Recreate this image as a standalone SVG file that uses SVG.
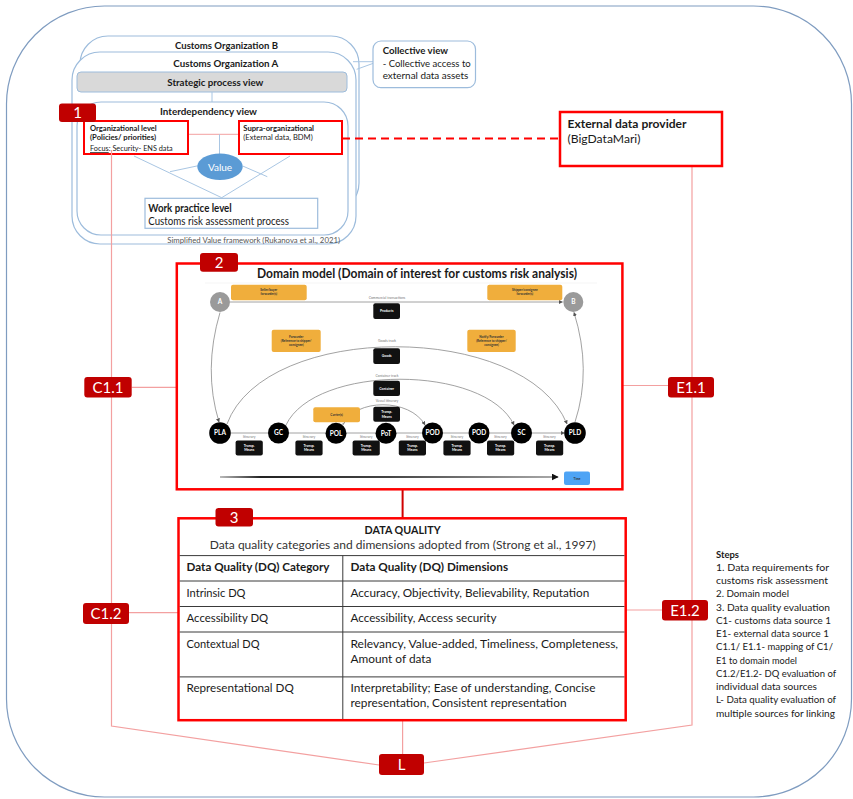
<svg xmlns="http://www.w3.org/2000/svg" width="853" height="799" viewBox="0 0 853 799">
<style>
text{font-family:Lato,"Liberation Sans","Noto Sans",sans-serif;fill:#1a1a1a}
.b{font-weight:bold}
.bl{fill:#fff;stroke:#9dbcdc;stroke-width:1.2}
.bln{fill:none;stroke:#a9c6e3;stroke-width:1}
.pk{fill:none;stroke:#f3a0a0;stroke-width:1.2}
.badge{fill:#c00000}
.bt{fill:#fff;font-size:15px;text-anchor:middle}
.rb{fill:#fff;stroke:#ff0000;stroke-width:2.5}
.tbl{stroke:#3a3a3a;stroke-width:1;fill:none}
.c11{font-size:11px}
.st{font-size:10px}
.tiny{font-size:3.4px;fill:#777;text-anchor:middle}
.wt{font-size:3.4px;fill:#fff;text-anchor:middle;font-weight:bold}
.ot{font-size:3.1px;fill:#333;text-anchor:middle;font-weight:bold}
.or{fill:#f0ae3c}
.bk{fill:#111}
.nl{fill:#fff;font-size:6.5px;font-weight:bold;text-anchor:middle}
.dl{fill:none;stroke:#8a8a8a;stroke-width:0.8}
</style>
<defs>
<marker id="ah" viewBox="0 0 10 10" refX="9" refY="5" markerWidth="4" markerHeight="4" markerUnits="userSpaceOnUse" orient="auto"><path d="M0,0 L10,5 L0,10z" fill="#555"/></marker>
<marker id="ta" viewBox="0 0 10 10" refX="9" refY="5" markerWidth="7" markerHeight="7" markerUnits="userSpaceOnUse" orient="auto"><path d="M0,0 L10,5 L0,10z" fill="#111"/></marker>
<linearGradient id="tg" gradientUnits="userSpaceOnUse" x1="220" y1="0" x2="558" y2="0">
<stop offset="0" stop-color="#bbb"/><stop offset="0.12" stop-color="#222"/><stop offset="0.5" stop-color="#444"/><stop offset="1" stop-color="#aaa"/>
</linearGradient>
</defs>

<rect id="frame" x="6.5" y="6" width="845" height="791" rx="98" fill="#fff" stroke="#7f9cc0" stroke-width="1.2"/>

<g id="value-framework">
<rect class="bl" x="80" y="36" width="279" height="175" rx="28"/>
<rect class="bl" x="72" y="52" width="284" height="192" rx="28"/>
<text class="b" x="226.5" y="48.5" font-size="10" text-anchor="middle" textLength="103" lengthAdjust="spacingAndGlyphs">Customs Organization B</text>
<text class="b" x="225.8" y="67" font-size="10" text-anchor="middle" textLength="105" lengthAdjust="spacingAndGlyphs">Customs Organization A</text>
<rect x="77" y="72" width="270" height="20" rx="4" fill="#d9d9d9" stroke="#9dbcdc" stroke-width="1"/>
<text class="b" x="215.3" y="86" font-size="10" text-anchor="middle" textLength="96" lengthAdjust="spacingAndGlyphs">Strategic process view</text>
<line class="bln" x1="212" y1="92" x2="212" y2="102"/>
<rect class="bl" x="77" y="102" width="271" height="133" rx="24"/>
<text class="b" x="208.5" y="114.5" font-size="10" text-anchor="middle" textLength="97" lengthAdjust="spacingAndGlyphs">Interdependency view</text>
<line x1="188" y1="134.3" x2="239" y2="134.3" stroke="#f3a0a0" stroke-width="1"/>
<line class="bln" x1="219.5" y1="134.3" x2="219.5" y2="154"/>
<path class="bln" d="M134,156 L221.7,197.7 L290,156 M170,171.7 L198.3,165.7 M242.7,166 L267.3,176.7"/>
<g id="org-level">
<rect x="84" y="121" width="104" height="33" fill="#fff" stroke="#ff0000" stroke-width="2"/>
<text class="b" x="90" y="131" font-size="7.5" textLength="66.7" lengthAdjust="spacingAndGlyphs">Organizational level</text>
<text class="b" x="90" y="139.5" font-size="7.5" textLength="66" lengthAdjust="spacingAndGlyphs">(Policies/ priorities)</text>
<text x="90" y="151" font-size="7.5" fill="#333" textLength="82.7" lengthAdjust="spacingAndGlyphs"><tspan text-decoration="underline">Focus</tspan>: Security- ENS data</text>
</g>
<g id="supra-level">
<rect x="239" y="121" width="103" height="33" fill="#fff" stroke="#ff0000" stroke-width="2"/>
<text class="b" x="243.3" y="131" font-size="7.5" textLength="70.7" lengthAdjust="spacingAndGlyphs">Supra-organizational</text>
<text x="243.3" y="139.5" font-size="7.5" fill="#444" textLength="69.4" lengthAdjust="spacingAndGlyphs">(External data, BDM)</text>
</g>
<g id="value">
<ellipse cx="220" cy="166.7" rx="22.7" ry="13.3" fill="#5b9bd5"/>
<text x="220" y="170.5" font-size="10" fill="#fff" style="fill:#fff" text-anchor="middle">Value</text>
</g>
<g id="work-practice">
<rect x="145" y="198.3" width="172.7" height="30" fill="#fff" stroke="#9dbcdc" stroke-width="1.2"/>
<text class="b" x="148.3" y="212" font-size="10.5" textLength="83.4" lengthAdjust="spacingAndGlyphs">Work practice level</text>
<text x="148.3" y="224.5" font-size="10.5" textLength="140.7" lengthAdjust="spacingAndGlyphs">Customs risk assessment process</text>
</g>
<text x="167.3" y="243" font-size="7.5" style="fill:#555" textLength="172.7" lengthAdjust="spacingAndGlyphs">Simplified Value framework (Rukanova et al., 2021)</text>
</g>

<g id="collective-view">
<path class="bln" d="M353,61.7 L373.3,61.7 M356.7,69.3 L373.3,63.3"/>
<rect x="373" y="41" width="102.5" height="46.7" rx="8" fill="#fff" stroke="#9dbcdc" stroke-width="1.2"/>
<text class="b" x="382.7" y="54" font-size="9.5" textLength="65.3" lengthAdjust="spacingAndGlyphs">Collective view</text>
<text x="382.7" y="66.5" font-size="9.5" textLength="88" lengthAdjust="spacingAndGlyphs">- Collective access to</text>
<text x="382.7" y="79" font-size="9.5" textLength="85.6" lengthAdjust="spacingAndGlyphs">external data assets</text>
</g>

<g id="connectors">
<path class="pk" d="M111.5,150 V726 L379,765"/>
<path class="pk" d="M692,166 V725 L424,763"/>
<path class="pk" d="M402.6,720 V754"/>
<path class="pk" d="M131.7,387.3 H176.8"/>
<path class="pk" d="M622.4,385.5 H668"/>
<path class="pk" d="M129,612.6 H178.5"/>
<path class="pk" d="M625.7,610 H662"/>
<path d="M402.6,489.3 V518.3" stroke="#d00000" stroke-width="2" fill="none"/>
<path d="M342,138.5 H560" stroke="#ff0000" stroke-width="2" stroke-dasharray="8,5" fill="none"/>
</g>

<g id="external-provider">
<rect x="560" y="112" width="162" height="54" fill="#fff" stroke="#ff0000" stroke-width="2.5"/>
<text class="b" x="567.5" y="127.5" font-size="12" textLength="119" lengthAdjust="spacingAndGlyphs">External data provider</text>
<text x="567.5" y="143" font-size="12" textLength="73" lengthAdjust="spacingAndGlyphs">(BigDataMari)</text>
</g>

<g id="domain-model">
<rect class="rb" x="176.8" y="263.5" width="445.6" height="225.8"/>
<text class="b" x="257" y="278" font-size="13" textLength="320" lengthAdjust="spacingAndGlyphs">Domain model (Domain of interest for customs risk analysis)</text>
<line x1="205" y1="283" x2="597" y2="283" stroke="#eeeeee" stroke-width="0.6"/>
<!-- tracks -->
<path class="dl" d="M230,302 H562.5" marker-end="url(#ah)"/>
<path class="dl" d="M220,312.5 Q203,370 219,422" marker-end="url(#ah)"/>
<path class="dl" d="M575,422 Q592,370 574,312.5" marker-end="url(#ah)"/>
<path class="dl" d="M227,424 C265,321 525,321 567,424" marker-end="url(#ah)"/>
<path class="dl" d="M286,425 C315,364 485,364 514,425" marker-end="url(#ah)"/>
<path class="dl" d="M343,425 C355,398 410,398 425,425" marker-end="url(#ah)"/>
<path class="dl" d="M230.5,433 H268 M289,433 H325.5 M346.5,433 H375.5 M396.5,433 H422 M443,433 H468.5 M489.5,433 H511 M532,433 H564.5" marker-end="url(#ah)"/>
<path class="dl" d="M345,422.3 L341,425"/>
<text class="tiny" x="387" y="298.8">Commercial transactions</text>
<text class="tiny" x="387" y="342.3">Goods track</text>
<text class="tiny" x="387" y="377">Container track</text>
<text class="tiny" x="387" y="402.3">Vessel itinerary</text>
<!-- orange actor boxes -->
<rect class="or" x="231" y="284.7" width="75.7" height="15.6" rx="2"/>
<text class="ot" x="268.8" y="291.3">Seller/buyer</text><text class="ot" x="268.8" y="295.3">forwarder(s)</text>
<rect class="or" x="487.3" y="284.7" width="75" height="15.6" rx="2"/>
<text class="ot" x="524.8" y="291.3">Shipper/consignee</text><text class="ot" x="524.8" y="295.3">forwarder(s)</text>
<rect class="or" x="271.7" y="329.7" width="49" height="22.3" rx="2"/>
<text class="ot" x="296.2" y="337.5">Forwarder</text><text class="ot" x="296.2" y="341.5">(Reference to shipper/</text><text class="ot" x="296.2" y="345.5">consignee)</text>
<rect class="or" x="467.3" y="329.7" width="48.4" height="22.3" rx="2"/>
<text class="ot" x="491.5" y="337.5">Notify/Forwarder</text><text class="ot" x="491.5" y="341.5">(Reference to shipper/</text><text class="ot" x="491.5" y="345.5">consignee)</text>
<rect class="or" x="313.3" y="407.3" width="46.7" height="15" rx="2"/>
<text class="ot" x="336.6" y="416">Carrier(s)</text>
<!-- black object boxes -->
<rect class="bk" x="373.3" y="303.3" width="26.7" height="15.7" rx="2"/>
<text class="wt" x="386.7" y="312.3">Products</text>
<rect class="bk" x="373.3" y="348.3" width="26.7" height="15.7" rx="2"/>
<text class="wt" x="386.7" y="357.3">Goods</text>
<rect class="bk" x="373.3" y="380.7" width="26.7" height="15.3" rx="2"/>
<text class="wt" x="386.7" y="389.5">Container</text>
<rect class="bk" x="373.3" y="406.7" width="26.7" height="15" rx="2"/>
<text class="wt" x="386.7" y="413.3">Transp.</text><text class="wt" x="386.7" y="417.5">Means</text>
<!-- itinerary transport boxes -->
<g id="itineraries">
<text class="tiny" x="249.2" y="438.2">Itinerary</text>
<rect class="bk" x="235.6" y="440.5" width="27.2" height="15" rx="2"/>
<text class="wt" x="249.2" y="447">Transp.</text><text class="wt" x="249.2" y="451.2">Means</text>
<text class="tiny" x="309" y="438.2">Itinerary</text>
<rect class="bk" x="295.4" y="440.5" width="27.2" height="15" rx="2"/>
<text class="wt" x="309" y="447">Transp.</text><text class="wt" x="309" y="451.2">Means</text>
<text class="tiny" x="366.2" y="438.2">Itinerary</text>
<rect class="bk" x="352.6" y="440.5" width="27.2" height="15" rx="2"/>
<text class="wt" x="366.2" y="447">Transp.</text><text class="wt" x="366.2" y="451.2">Means</text>
<text class="tiny" x="412.4" y="438.2">Itinerary</text>
<rect class="bk" x="398.8" y="440.5" width="27.2" height="15" rx="2"/>
<text class="wt" x="412.4" y="447">Transp.</text><text class="wt" x="412.4" y="451.2">Means</text>
<text class="tiny" x="457" y="438.2">Itinerary</text>
<rect class="bk" x="443.4" y="440.5" width="27.2" height="15" rx="2"/>
<text class="wt" x="457" y="447">Transp.</text><text class="wt" x="457" y="451.2">Means</text>
<text class="tiny" x="500.5" y="438.2">Itinerary</text>
<rect class="bk" x="487" y="440.5" width="27.2" height="15" rx="2"/>
<text class="wt" x="500.5" y="447">Transp.</text><text class="wt" x="500.5" y="451.2">Means</text>
<text class="tiny" x="549.5" y="438.2">Itinerary</text>
<rect class="bk" x="536" y="440.5" width="27.2" height="15" rx="2"/>
<text class="wt" x="549.5" y="447">Transp.</text><text class="wt" x="549.5" y="451.2">Means</text>
</g>
<!-- location nodes -->
<g id="locations">
<circle cx="220" cy="302" r="10" fill="#9a9a9a"/><text class="nl" x="220" y="304.3" font-size="6">A</text>
<circle cx="573.3" cy="302" r="10" fill="#9a9a9a"/><text class="nl" x="573.3" y="304.3" font-size="6">B</text>
<circle cx="220" cy="433" r="10.8" fill="#000"/><text class="nl" x="220" y="435.4">PLA</text>
<circle cx="278.5" cy="433" r="10.5" fill="#000"/><text class="nl" x="278.5" y="435.4">GC</text>
<circle cx="336" cy="433.3" r="10.5" fill="#000"/><text class="nl" x="336" y="435.7">POL</text>
<circle cx="386" cy="433.3" r="10.5" fill="#000"/><text class="nl" x="386" y="435.7">PoT</text>
<circle cx="432.5" cy="433" r="10.5" fill="#000"/><text class="nl" x="432.5" y="435.4">POD</text>
<circle cx="479" cy="433" r="10.5" fill="#000"/><text class="nl" x="479" y="435.4">POD</text>
<circle cx="521.5" cy="433" r="10.5" fill="#000"/><text class="nl" x="521.5" y="435.4">SC</text>
<circle cx="575" cy="433" r="10.8" fill="#000"/><text class="nl" x="575" y="435.4">PLD</text>
</g>
<!-- time axis -->
<path d="M220,477 H558" stroke="url(#tg)" stroke-width="1.8" fill="none" marker-end="url(#ta)"/>
<rect x="564" y="471.5" width="26" height="13.5" rx="2" fill="#4ea4f5"/>
<text class="ot" x="577" y="479.5" font-size="3.6">Time</text>
</g>

<g id="data-quality">
<rect class="rb" x="178.5" y="518.3" width="447.2" height="201.9"/>
<path class="tbl" d="M179.7,555.6 H624.5 M179.7,581 H624.5 M179.7,606.5 H624.5 M179.7,632 H624.5 M179.7,676.9 H624.5 M342.8,555.6 V719"/>
<text class="b" x="402.6" y="534" font-size="11.5" text-anchor="middle" textLength="76" lengthAdjust="spacingAndGlyphs">DATA QUALITY</text>
<text x="402.7" y="549.3" font-size="11" text-anchor="middle" textLength="386" lengthAdjust="spacingAndGlyphs" style="fill:#333">Data quality categories and dimensions adopted from (Strong et al., 1997)</text>
<text class="b c11" x="186.5" y="571.3" textLength="143" lengthAdjust="spacingAndGlyphs">Data Quality (DQ) Category</text>
<text class="b c11" x="350.5" y="571.3" textLength="157.6" lengthAdjust="spacingAndGlyphs">Data Quality (DQ) Dimensions</text>
<text class="c11" x="186.5" y="596.6" textLength="59" lengthAdjust="spacingAndGlyphs">Intrinsic DQ</text>
<text class="c11" x="350.5" y="596.6" textLength="238.7" lengthAdjust="spacingAndGlyphs">Accuracy, Objectivity, Believability, Reputation</text>
<text class="c11" x="186.5" y="622" textLength="81.7" lengthAdjust="spacingAndGlyphs">Accessibility DQ</text>
<text class="c11" x="350.5" y="622" textLength="146" lengthAdjust="spacingAndGlyphs">Accessibility, Access security</text>
<text class="c11" x="186.5" y="647.8" textLength="73" lengthAdjust="spacingAndGlyphs">Contextual DQ</text>
<text class="c11" x="350.5" y="647.8" textLength="267.6" lengthAdjust="spacingAndGlyphs">Relevancy, Value-added, Timeliness, Completeness,</text>
<text class="c11" x="350.5" y="663" textLength="81" lengthAdjust="spacingAndGlyphs">Amount of data</text>
<text class="c11" x="186.5" y="691.8" textLength="107.3" lengthAdjust="spacingAndGlyphs">Representational DQ</text>
<text class="c11" x="350.5" y="691.8" textLength="245" lengthAdjust="spacingAndGlyphs">Interpretability; Ease of understanding, Concise</text>
<text class="c11" x="350.5" y="706.5" textLength="216" lengthAdjust="spacingAndGlyphs">representation, Consistent representation</text>
</g>

<g id="badges">
<g id="badge-1"><rect class="badge" x="59" y="103.5" width="37" height="18.5" rx="3"/><text class="bt" x="77.5" y="118">1</text></g>
<g id="badge-2"><rect class="badge" x="200" y="253" width="38" height="18.7" rx="3"/><text class="bt" x="219" y="267.8">2</text></g>
<g id="badge-3"><rect class="badge" x="215.5" y="508" width="37.5" height="18.5" rx="3"/><text class="bt" x="234.2" y="522.6">3</text></g>
<g id="badge-C1.1"><rect class="badge" x="84.3" y="377" width="47.4" height="20.5" rx="3"/><text class="bt" x="108" y="392.6">C1.1</text></g>
<g id="badge-C1.2"><rect class="badge" x="83" y="603" width="46" height="21" rx="3"/><text class="bt" x="106" y="618.8">C1.2</text></g>
<g id="badge-E1.1"><rect class="badge" x="668" y="377" width="46" height="20.5" rx="3"/><text class="bt" x="691" y="392.6">E1.1</text></g>
<g id="badge-E1.2"><rect class="badge" x="662" y="600" width="46" height="20.5" rx="3"/><text class="bt" x="685" y="615.6">E1.2</text></g>
<g id="badge-L"><rect class="badge" x="379" y="754" width="45" height="21" rx="3"/><text class="bt" x="401.5" y="769.8">L</text></g>
</g>

<g id="steps">
<text class="b st" x="716" y="557.5" textLength="23" lengthAdjust="spacingAndGlyphs">Steps</text>
<text class="st" x="716" y="570.8" textLength="113" lengthAdjust="spacingAndGlyphs">1. Data requirements for</text>
<text class="st" x="716" y="584" textLength="112" lengthAdjust="spacingAndGlyphs">customs risk assessment</text>
<text class="st" x="716" y="597.3" textLength="73" lengthAdjust="spacingAndGlyphs">2. Domain model</text>
<text class="st" x="716" y="610.5" textLength="114" lengthAdjust="spacingAndGlyphs">3. Data quality evaluation</text>
<text class="st" x="716" y="623.8" textLength="115" lengthAdjust="spacingAndGlyphs">C1- customs data source 1</text>
<text class="st" x="716" y="637" textLength="113" lengthAdjust="spacingAndGlyphs">E1- external data source 1</text>
<text class="st" x="716" y="650.3" textLength="117" lengthAdjust="spacingAndGlyphs">C1.1/ E1.1- mapping of C1/</text>
<text class="st" x="716" y="663.5" textLength="81" lengthAdjust="spacingAndGlyphs">E1 to domain model</text>
<text class="st" x="716" y="676.8" textLength="120" lengthAdjust="spacingAndGlyphs">C1.2/E1.2- DQ evaluation of</text>
<text class="st" x="716" y="690" textLength="101" lengthAdjust="spacingAndGlyphs">individual data sources</text>
<text class="st" x="716" y="703.3" textLength="120" lengthAdjust="spacingAndGlyphs">L- Data quality evaluation of</text>
<text class="st" x="716" y="716.5" textLength="119" lengthAdjust="spacingAndGlyphs">multiple sources for linking</text>
</g>
</svg>
